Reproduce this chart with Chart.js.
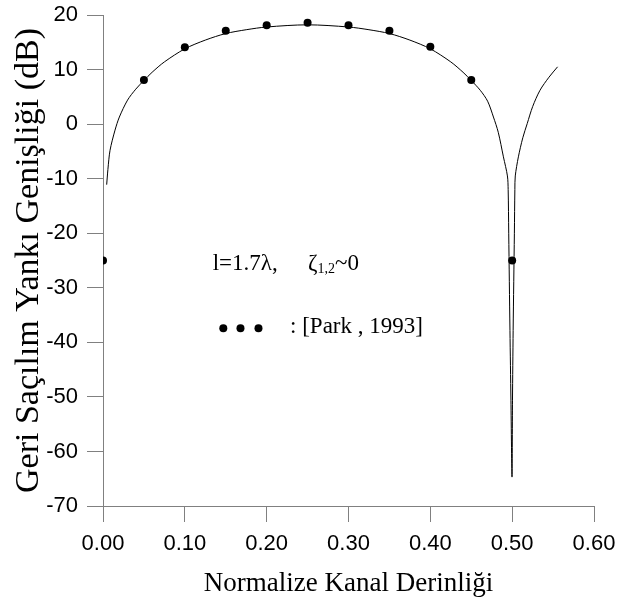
<!DOCTYPE html>
<html>
<head>
<meta charset="utf-8">
<script src="https://cdn.jsdelivr.net/npm/chart.js@4.4.0/dist/chart.umd.min.js"></script>
<style>
  html, body { margin: 0; padding: 0; background: #fff; }
  #wrap { width: 629px; height: 603px; }
</style>
</head>
<body>
<div id="wrap"><canvas id="chart"></canvas></div>
<script>
// computed curve (solid line)
const curveX = [0.0045, 0.006, 0.0086, 0.0147, 0.02, 0.03, 0.04, 0.05, 0.06, 0.075,
  0.1, 0.125, 0.15, 0.175, 0.2, 0.25, 0.3, 0.325, 0.35, 0.375,
  0.4, 0.425, 0.44, 0.45, 0.461, 0.47, 0.4771, 0.483, 0.4893, 0.4942,
  0.4951, 0.4958, 0.4973, 0.4985, 0.4998, 0.5004, 0.5012, 0.5027, 0.5033, 0.5038,
  0.5076, 0.513, 0.5184, 0.525, 0.534, 0.545, 0.5555];
const curveDb = [-11.1, -8.3, -4.8, -1.1, 1.3, 4.4, 6.4, 8.0, 9.5, 11.4,
  13.8, 15.4, 16.6, 17.3, 17.8, 18.2, 17.8, 17.3, 16.6, 15.4,
  13.8, 11.4, 9.5, 8.0, 6.2, 4.2, 1.3, -1.5, -6, -9.5,
  -12, -20, -37.8, -50.6, -64.7, -50.6, -37.8, -20, -12, -9.5,
  -6, -2.5, 0.1, 3.2, 6.2, 8.6, 10.5];

// [Park, 1993] points
const parkX = [0, 0.05, 0.1, 0.15, 0.2, 0.25, 0.3, 0.35, 0.4, 0.45, 0.5];
const parkDb = [-25, 8.1, 14.1, 17.1, 18.1, 18.6, 18.1, 17.1, 14.2, 8.1, -25];

const xTicks = [0, 0.1, 0.2, 0.3, 0.4, 0.5, 0.6];
const yTicks = [-70, -60, -50, -40, -30, -20, -10, 0, 10, 20];

const axisGray = '#808080';
const serif = '"Liberation Serif", "Times New Roman", serif';
const sans = '"Liberation Sans", Arial, sans-serif';

// annotation text inside the plot
const notePlugin = {
  id: 'note',
  afterDraw(chart) {
    const { ctx, scales: { x, y } } = chart;
    ctx.save();
    ctx.fillStyle = '#000';
    ctx.textBaseline = 'alphabetic';
    ctx.font = '23px ' + serif;

    // line 1
    let px = x.getPixelForValue(0.134);
    let py = y.getPixelForValue(-26.8);
    ctx.fillText('l=1.7λ,', px, py);
    px = x.getPixelForValue(0.2506);
    ctx.fillText('ζ', px, py);
    px += ctx.measureText('ζ').width;
    ctx.font = '14px ' + serif;
    ctx.fillText('1,2', px, py + 3);
    px += ctx.measureText('1,2').width;
    ctx.font = '23px ' + serif;
    ctx.fillText('~0', px, py);

    // line 2
    const dy = y.getPixelForValue(-37.4);
    [0.147, 0.168, 0.19].forEach(v => {
      ctx.beginPath();
      ctx.arc(x.getPixelForValue(v), dy, 4, 0, Math.PI * 2);
      ctx.fill();
    });
    ctx.fillText(': [Park , 1993]', x.getPixelForValue(0.2286), y.getPixelForValue(-38.3));
    ctx.restore();
  }
};

new Chart(document.getElementById('chart'), {
  type: 'scatter',
  data: {
    datasets: [
      {
        label: 'hesaplanan',
        data: curveX.map((v, i) => ({ x: v, y: curveDb[i] })),
        showLine: true,
        borderColor: '#000',
        borderWidth: 1,
        pointRadius: 0,
        tension: 0.3,
        fill: false
      },
      {
        label: '[Park , 1993]',
        data: parkX.map((v, i) => ({ x: v, y: parkDb[i] })),
        showLine: false,
        pointRadius: 4,
        pointBackgroundColor: '#000',
        pointBorderColor: '#000',
        pointBorderWidth: 0
      }
    ]
  },
  options: {
    responsive: true,
    maintainAspectRatio: false,
    animation: false,
    layout: { padding: { top: 15, right: 35, left: 0, bottom: 0 } },
    plugins: {
      legend: { display: false },
      tooltip: { enabled: false }
    },
    scales: {
      x: {
        type: 'linear',
        min: 0,
        max: 0.6,
        afterBuildTicks: s => { s.ticks = xTicks.map(v => ({ value: v })); },
        afterFit: s => { s.height = 97; s.paddingLeft = 0; s.paddingRight = 0; },
        ticks: {
          callback: v => v.toFixed(2),
          font: { family: sans, size: 22 },
          color: '#000',
          padding: 9,
          maxRotation: 0
        },
        grid: { drawOnChartArea: false, drawTicks: true, tickLength: 16, color: axisGray },
        border: { color: axisGray },
        title: {
          display: true,
          text: 'Normalize Kanal Derinliği',
          font: { family: serif, size: 27 },
          color: '#000',
          padding: { top: 0, bottom: 3 }
        }
      },
      y: {
        min: -70,
        max: 20,
        afterBuildTicks: s => { s.ticks = yTicks.map(v => ({ value: v })); },
        afterFit: s => { s.width = 103; s.paddingTop = 0; s.paddingBottom = 0; },
        ticks: {
          font: { family: sans, size: 22 },
          color: '#000',
          padding: 9
        },
        grid: { drawOnChartArea: false, drawTicks: true, tickLength: 16, color: axisGray },
        border: { color: axisGray },
        title: {
          display: true,
          text: 'Geri Saçılım Yankı Genişliği (dB)',
          font: { family: serif, size: 34, lineHeight: 1 },
          color: '#000',
          padding: { top: 12, bottom: 0 }
        }
      }
    }
  },
  plugins: [notePlugin]
});
</script>
</body>
</html>
